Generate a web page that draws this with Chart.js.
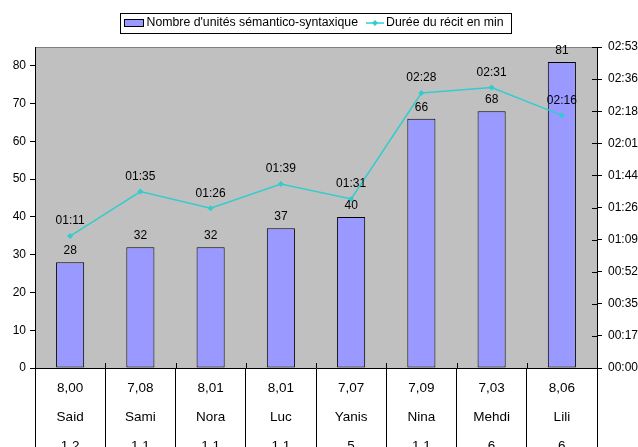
<!DOCTYPE html>
<html>
<head>
<meta charset="utf-8">
<script src="https://cdn.jsdelivr.net/npm/chart.js@4.4.0/dist/chart.umd.min.js"></script>
<style>
body { margin: 0; background: #fff; }
#wrap { width: 638px; height: 447px; position: relative; }
</style>
</head>
<body>
<div id="wrap"><canvas id="grafico"></canvas></div>
<script>
// donnees
const noms = ["Said", "Sami", "Nora", "Luc", "Yanis", "Nina", "Mehdi", "Lili"];
const ligneHaut = ["8,00", "7,08", "8,01", "8,01", "7,07", "7,09", "7,03", "8,06"];
const ligneBas = ["1,2", "1,1", "1,1", "1,1", "5", "1,1", "6", "6"];
const unites = [28, 32, 32, 37, 40, 66, 68, 81];
const dureeSec = [71, 95, 86, 99, 91, 148, 151, 136]; // en secondes
const ticksGauche = [0, 10, 20, 30, 40, 50, 60, 70, 80];
const ticksDroite = [0, 17.28, 34.56, 51.84, 69.12, 86.4, 103.68, 120.96, 138.24, 155.52, 172.8];

const POLICE = "'Liberation Sans', Arial, sans-serif";
Chart.defaults.font.family = POLICE;
Chart.defaults.color = "#000";

function mmss(s) {
    const t = Math.round(s);
    const m = Math.floor(t / 60);
    const r = t % 60;
    return String(m).padStart(2, "0") + ":" + String(r).padStart(2, "0");
}

const etiquettes = noms.map((n, i) => [ligneHaut[i], n, ligneBas[i]]);

// fond gris, legende et petits traits
const decorPlugin = {
    id: "decor",
    beforeDraw(chart) {
        const c = chart.ctx, a = chart.chartArea;
        c.save();
        c.fillStyle = "#c0c0c0";
        c.fillRect(a.left, a.top, a.right - a.left, a.bottom - a.top);
        c.strokeStyle = "#808080";
        c.lineWidth = 1;
        c.beginPath();
        c.moveTo(a.left, a.top + 0.5);
        c.lineTo(a.right, a.top + 0.5);
        c.stroke();
        c.restore();
    },
    afterDraw(chart) {
        const c = chart.ctx, a = chart.chartArea;
        const xs = chart.scales.x, y2 = chart.scales.y2;
        c.save();
        c.strokeStyle = "#000";
        c.lineWidth = 1;
        // traits au-dessus de l'axe x
        const larg = xs.getPixelForValue(1) - xs.getPixelForValue(0);
        c.beginPath();
        for (let i = 0; i <= noms.length; i++) {
            const px = Math.round(xs.getPixelForValue(i) - larg / 2) + 0.5;
            c.moveTo(px, a.bottom - 5);
            c.lineTo(px, a.bottom);
        }
        // traits de l'axe droit vers l'interieur
        ticksDroite.forEach(v => {
            const py = Math.round(y2.getPixelForValue(v)) + 0.5;
            c.moveTo(a.right - 5, py);
            c.lineTo(a.right, py);
        });
        c.stroke();

        // legende
        const ds = chart.data.datasets;
        c.font = "12.3px " + POLICE;
        c.textBaseline = "middle";
        c.textAlign = "left";
        const w1 = c.measureText(ds[1].label).width;
        const w2 = c.measureText(ds[0].label).width;
        const total = 4 + 19 + 3 + w1 + 8 + 18 + 2 + w2 + 8;
        const x0 = Math.round(316 - total / 2) + 0.5;
        const yc = 23;
        c.strokeStyle = "#000";
        c.strokeRect(x0, 13.5, Math.round(total), 20);
        let x = x0 + 4;
        c.fillStyle = "#9999ff";
        c.fillRect(x, 19.5, 19, 7);
        c.strokeRect(x, 19.5, 19, 7);
        x += 19 + 3;
        c.fillStyle = "#000";
        c.fillText(ds[1].label, x, yc);
        x += w1 + 8;
        c.strokeStyle = "#33cccc";
        c.lineWidth = 1.5;
        c.beginPath();
        c.moveTo(x, yc);
        c.lineTo(x + 18, yc);
        c.stroke();
        c.fillStyle = "#33cccc";
        c.beginPath();
        c.moveTo(x + 9, yc - 3);
        c.lineTo(x + 12, yc);
        c.lineTo(x + 9, yc + 3);
        c.lineTo(x + 6, yc);
        c.closePath();
        c.fill();
        x += 18 + 2;
        c.fillStyle = "#000";
        c.fillText(ds[0].label, x, yc);
        c.restore();
    }
};

// valeurs au-dessus des barres et des points
const valeursPlugin = {
    id: "valeurs",
    afterDatasetsDraw(chart) {
        const c = chart.ctx;
        c.save();
        c.font = "12px " + POLICE;
        c.fillStyle = "#000";
        c.textAlign = "center";
        c.textBaseline = "middle";
        chart.getDatasetMeta(1).data.forEach((el, i) => {
            c.fillText(String(unites[i]), el.x, el.y - 11.5);
        });
        chart.getDatasetMeta(0).data.forEach((el, i) => {
            c.fillText(mmss(dureeSec[i]), el.x, el.y - 15);
        });
        c.restore();
    }
};

const ctx = document.getElementById("grafico").getContext("2d");

const chart = new Chart(ctx, {
    data: {
        labels: etiquettes,
        datasets: [
            {
                type: "line",
                label: "Durée du récit en min",
                data: dureeSec,
                yAxisID: "y2",
                borderColor: "#33cccc",
                backgroundColor: "#33cccc",
                borderWidth: 1.5,
                pointStyle: "rectRot",
                pointRadius: 3,
                pointBorderWidth: 0,
                tension: 0,
                order: 0
            },
            {
                type: "bar",
                label: "Nombre d'unités sémantico-syntaxique",
                data: unites,
                yAxisID: "y",
                backgroundColor: "#9999ff",
                borderColor: "#000",
                borderWidth: 1,
                borderSkipped: false,
                categoryPercentage: 1,
                barPercentage: 0.4,
                order: 1
            }
        ]
    },
    options: {
        responsive: true,
        maintainAspectRatio: false,
        animation: false,
        layout: { padding: { top: 47, left: 0, right: 0, bottom: 0 } },
        plugins: {
            legend: { display: false },
            tooltip: { enabled: false }
        },
        scales: {
            x: {
                type: "category",
                offset: true,
                grid: { offset: true, drawOnChartArea: false, tickLength: 79, color: "#000" },
                border: { color: "#000" },
                ticks: {
                    autoSkip: false,
                    maxRotation: 0,
                    padding: -73.5,
                    font: { size: 13.5, lineHeight: "29px" }
                },
                afterFit(s) { s.height = 79; }
            },
            y: {
                position: "left",
                min: 0,
                max: 85,
                afterBuildTicks(s) { s.ticks = ticksGauche.map(v => ({ value: v })); },
                grid: { drawOnChartArea: false, tickLength: 5, color: "#000" },
                border: { color: "#000" },
                ticks: { padding: 4, font: { size: 12 } },
                afterFit(s) { s.width = 35; }
            },
            y2: {
                position: "right",
                min: 0,
                max: 172.8,
                afterBuildTicks(s) { s.ticks = ticksDroite.map(v => ({ value: v })); },
                grid: { drawOnChartArea: false, tickLength: 5, color: "#000" },
                border: { color: "#000" },
                ticks: {
                    padding: 6,
                    font: { size: 12 },
                    callback: (v) => mmss(v)
                },
                afterFit(s) { s.width = 41; }
            }
        }
    },
    plugins: [decorPlugin, valeursPlugin]
});
</script>
</body>
</html>
